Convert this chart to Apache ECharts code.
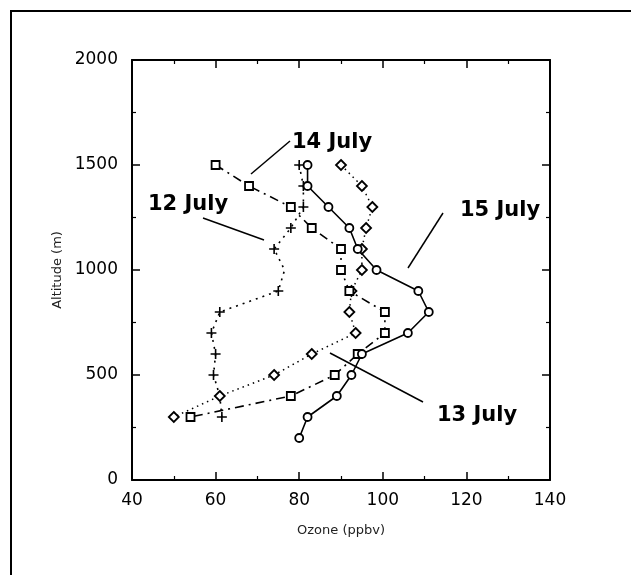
<!DOCTYPE html>
<html>
<head>
<meta charset="utf-8">
<script src="https://cdn.jsdelivr.net/npm/echarts@6/dist/echarts.min.js"></script>
<style>
  html, body { margin: 0; padding: 0; background: #fff; }
  #chart { width: 631px; height: 575px; }
</style>
</head>
<body>
<div id="chart"></div>
<script>
// Ozone profiles (ppbv) against altitude (m) for four days in July
const altitudes12 = [1500, 1400, 1300, 1200, 1100, 1000, 900, 800, 700, 600, 500, 400, 300];
const ozone12     = [80, 81, 81, 78, 74, 76.5, 75, 61, 59, 60, 59.5, 61, 61.5];

const altitudes13 = [1500, 1400, 1300, 1200, 1100, 1000, 900, 800, 700, 600, 500, 400, 300];
const ozone13     = [90, 95, 97.5, 96, 95, 95, 92.5, 92, 93.5, 83, 74, 61, 50];

const altitudes14 = [1500, 1400, 1300, 1200, 1100, 1000, 900, 800, 700, 600, 500, 400, 300];
const ozone14     = [60, 68, 78, 83, 90, 90, 92, 100.5, 100.5, 94, 88.5, 78, 54];

const altitudes15 = [1500, 1400, 1300, 1200, 1100, 1000, 900, 800, 700, 600, 500, 400, 300, 200];
const ozone15     = [82, 82, 87, 92, 94, 98.5, 108.5, 111, 106, 95, 92.5, 89, 82, 80];

const xTicks = [40, 60, 80, 100, 120, 140];
const yTicks = [0, 500, 1000, 1500, 2000];

const dayLabels = ['12 July', '13 July', '14 July', '15 July'];

// a thin plus sign for the 12 July markers
const plusPath = 'path://M4.2,0 H5.8 V4.2 H10 V5.8 H5.8 V10 H4.2 V5.8 H0 V4.2 H4.2 Z';

function pairs(xs, ys) {
  return xs.map((x, i) => ({ value: [x, ys[i]] }));
}

const INK = '#000';
const tickFont = { fontFamily: 'DejaVu Sans', fontSize: 17, color: INK, formatter: v => String(v) };

function axisBase(extra) {
  return Object.assign({
    axisLine: { show: true, onZero: false, lineStyle: { color: INK, width: 2 } },
    axisTick: { show: true, inside: true, length: 8, lineStyle: { color: INK, width: 1.5 } },
    minorTick: { show: true, splitNumber: 2, length: 4, lineStyle: { color: INK, width: 1.2 } },
    splitLine: { show: false },
    minorSplitLine: { show: false }
  }, extra);
}

const chart = echarts.init(document.getElementById('chart'), null, { renderer: 'canvas' });

// the 1000 m reading of 12 July carries no marker
const data12 = pairs(ozone12, altitudes12).map((d, i) => {
  if (altitudes12[i] === 1000) d.symbolSize = 0;
  return d;
});

chart.setOption({
  backgroundColor: '#fff',
  animation: false,
  grid: { left: 132, right: 81, top: 60, bottom: 95, containLabel: false },
  xAxis: [
    axisBase({
      type: 'value', min: xTicks[0], max: xTicks[xTicks.length - 1], interval: 20,
      position: 'bottom',
      name: 'Ozone (ppbv)', nameLocation: 'middle', nameGap: 44,
      nameTextStyle: { fontFamily: 'DejaVu Sans', fontSize: 13, color: '#222' },
      axisLabel: Object.assign({ margin: 12 }, tickFont)
    }),
    axisBase({
      type: 'value', min: xTicks[0], max: xTicks[xTicks.length - 1], interval: 20,
      position: 'top', axisLabel: { show: false }
    })
  ],
  yAxis: [
    axisBase({
      type: 'value', min: yTicks[0], max: yTicks[yTicks.length - 1], interval: 500,
      position: 'left',
      name: 'Altitude (m)', nameLocation: 'middle', nameGap: 42, nameRotate: 90,
      nameTextStyle: { fontFamily: 'DejaVu Sans', fontSize: 13, color: '#222' },
      axisLabel: Object.assign({ margin: 14 }, tickFont)
    }),
    axisBase({
      type: 'value', min: yTicks[0], max: yTicks[yTicks.length - 1], interval: 500,
      position: 'right', axisLabel: { show: false }
    })
  ],
  series: [
    {
      name: dayLabels[0], type: 'line', data: data12,
      symbol: plusPath, symbolSize: 10, showAllSymbol: true,
      itemStyle: { color: INK },
      lineStyle: { color: INK, width: 1.6, type: [2, 5] }
    },
    {
      name: dayLabels[1], type: 'line', data: pairs(ozone13, altitudes13),
      symbol: 'diamond', symbolSize: 10, showAllSymbol: true,
      itemStyle: { color: '#fff', borderColor: INK, borderWidth: 1.8 },
      lineStyle: { color: INK, width: 1.5, type: [1.5, 4] }
    },
    {
      name: dayLabels[2], type: 'line', data: pairs(ozone14, altitudes14),
      symbol: 'rect', symbolSize: 8, showAllSymbol: true,
      itemStyle: { color: '#fff', borderColor: INK, borderWidth: 1.8 },
      lineStyle: { color: INK, width: 1.6, type: [9, 5, 2, 5] }
    },
    {
      name: dayLabels[3], type: 'line', data: pairs(ozone15, altitudes15),
      symbol: 'circle', symbolSize: 8, showAllSymbol: true,
      itemStyle: { color: '#fff', borderColor: INK, borderWidth: 1.8 },
      lineStyle: { color: INK, width: 1.6, type: 'solid' }
    }
  ],
  graphic: [
    // page border
    { type: 'line', shape: { x1: 10, y1: 11, x2: 631, y2: 11 }, style: { stroke: INK, lineWidth: 2 } },
    { type: 'line', shape: { x1: 11, y1: 10, x2: 11, y2: 575 }, style: { stroke: INK, lineWidth: 2 } },
    // day labels with leader lines
    { type: 'text', left: 292, top: 132, style: { text: dayLabels[2], font: 'bold 21px "DejaVu Sans"', fill: INK } },
    { type: 'line', shape: { x1: 251, y1: 174, x2: 290, y2: 141 }, style: { stroke: INK, lineWidth: 1.5 } },
    { type: 'text', left: 148, top: 194, style: { text: dayLabels[0], font: 'bold 21px "DejaVu Sans"', fill: INK } },
    { type: 'line', shape: { x1: 203, y1: 218, x2: 264, y2: 240 }, style: { stroke: INK, lineWidth: 1.5 } },
    { type: 'text', left: 460, top: 200, style: { text: dayLabels[3], font: 'bold 21px "DejaVu Sans"', fill: INK } },
    { type: 'line', shape: { x1: 408, y1: 268, x2: 443, y2: 213 }, style: { stroke: INK, lineWidth: 1.5 } },
    { type: 'text', left: 437, top: 405, style: { text: dayLabels[1], font: 'bold 21px "DejaVu Sans"', fill: INK } },
    { type: 'line', shape: { x1: 330, y1: 353, x2: 423, y2: 402 }, style: { stroke: INK, lineWidth: 1.5 } }
  ]
});
</script>
</body>
</html>
